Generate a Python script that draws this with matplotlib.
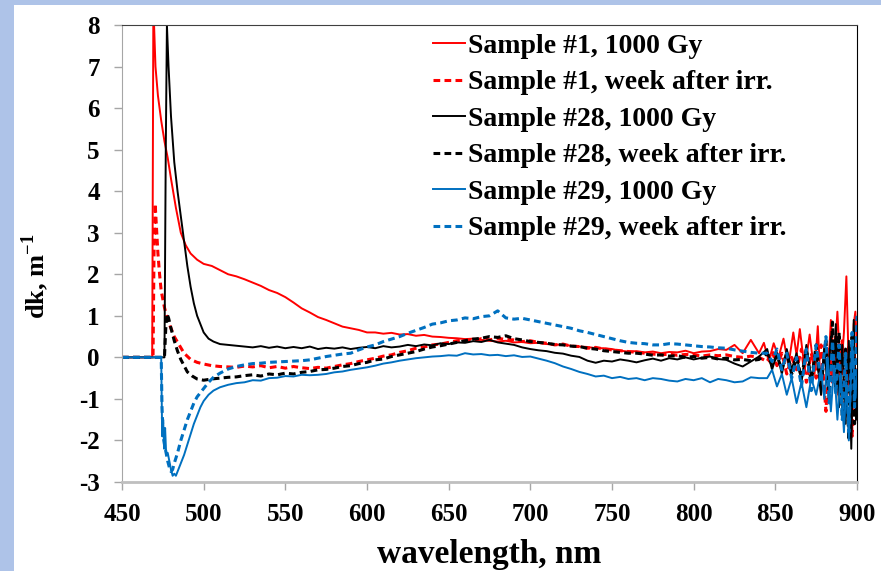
import numpy as np
import matplotlib
matplotlib.use("Agg")
import matplotlib.pyplot as plt
from matplotlib.patches import Rectangle

plt.rcParams['font.family'] = ['Liberation Serif', 'DejaVu Serif']
plt.rcParams['font.weight'] = 'bold'
plt.rcParams['mathtext.fontset'] = 'custom'
plt.rcParams['mathtext.bf'] = 'Liberation Serif:bold'
plt.rcParams['mathtext.rm'] = 'Liberation Serif:bold'
plt.rcParams['axes.unicode_minus'] = False

# ---------------- data ----------------
# common wavelength grid for the middle part of the spectra
mid_wl = list(range(520, 841, 5))

# Sample #1, 1000 Gy
s1_head_wl = [450, 468.5, 469.2, 470.5, 472, 474, 476, 478, 480, 483, 486, 489, 492, 496, 500, 505, 510, 515]
s1_head_dk = [0, 0, 8.5, 7.0, 6.3, 5.7, 5.2, 4.8, 4.3, 3.6, 3.0, 2.7, 2.5, 2.35, 2.25, 2.2, 2.1, 2.0]
s1_mid_dk = [1.95, 1.88, 1.8, 1.72, 1.62, 1.55, 1.45, 1.32, 1.18, 1.08,
             0.97, 0.9, 0.82, 0.74, 0.7, 0.66, 0.6, 0.6, 0.57, 0.59,
             0.55, 0.56, 0.52, 0.54, 0.5, 0.49, 0.47, 0.46, 0.44, 0.45,
             0.42, 0.4, 0.38, 0.4, 0.36, 0.37, 0.34, 0.35, 0.32, 0.31,
             0.3, 0.28, 0.26, 0.25, 0.22, 0.22, 0.2, 0.16, 0.14, 0.15,
             0.12, 0.14, 0.1, 0.13, 0.12, 0.16, 0.1, 0.14, 0.15, 0.2,
             0.18, 0.3, 0.1, 0.42, 0.1]
s1_tail_wl = [843, 846, 849, 852, 855, 858, 861, 863, 865, 868, 871, 874, 876, 878, 880,
              882, 884, 886, 888, 890, 892, 893.5, 895, 896.5, 898, 899, 900]
s1_tail_dk = [0.35, -0.1, 0.34, 0.0, 0.45, -0.2, 0.6, 0.05, 0.68, -0.3, 0.55, -0.4, 0.75, -0.9, 0.3,
              -0.6, 0.9, -0.2, 1.1, -0.5, 0.6, 1.95, -0.3, -1.9, 0.8, 1.1, 0.2]

# Sample #1, week after irradiation
s1w_head_wl = [450, 469, 469.6, 470.3, 471, 472, 473, 474, 476, 478, 480, 482, 485, 488, 492, 496, 500, 505, 510, 515]
s1w_head_dk = [0, 0, 2.5, 3.7, 3.2, 2.5, 2.0, 1.6, 1.2, 0.9, 0.7, 0.5, 0.3, 0.1, -0.05, -0.12, -0.16, -0.2, -0.22, -0.23]
s1w_mid_dk = [-0.24, -0.21, -0.23, -0.2, -0.25, -0.22, -0.26, -0.22, -0.25, -0.27,
              -0.24, -0.26, -0.22, -0.18, -0.15, -0.1, -0.06, -0.02, 0.03, 0.06,
              0.12, 0.16, 0.22, 0.25, 0.3, 0.32, 0.36, 0.4, 0.42, 0.4,
              0.45, 0.42, 0.46, 0.43, 0.42, 0.38, 0.4, 0.36, 0.34, 0.3,
              0.32, 0.27, 0.26, 0.22, 0.24, 0.2, 0.18, 0.16, 0.14, 0.12,
              0.1, 0.08, 0.06, 0.08, 0.05, 0.07, 0.06, 0.03, 0.06, 0.04,
              0.06, 0.02, 0.0, 0.03, 0.0]
s1w_tail_wl = [845, 848, 851, 854, 857, 860, 863, 866, 869, 872, 875, 878, 881, 883, 885,
               887, 889, 891, 893, 895, 897, 898.5, 900]
s1w_tail_dk = [-0.1, 0.15, -0.2, 0.1, -0.4, 0.0, -0.3, 0.2, -0.6, 0.1, -0.5, 0.3, -1.3, 0.2, -0.6,
               0.5, -0.9, 0.4, -1.4, 0.3, -1.9, 0.1, -1.0]

# Sample #28, 1000 Gy
s28_head_wl = [450, 476, 476.8, 477.5, 478.5, 480, 482, 484, 486, 488, 490, 492, 494, 496, 498, 500, 503, 506, 510, 515]
s28_head_dk = [0, 0, 5.0, 8.0, 7.0, 5.8, 4.7, 4.0, 3.4, 2.8, 2.2, 1.7, 1.3, 1.0, 0.8, 0.6, 0.45, 0.38, 0.32, 0.3]
s28_mid_dk = [0.28, 0.26, 0.24, 0.27, 0.23, 0.26, 0.22, 0.25, 0.22, 0.26,
              0.2, 0.23, 0.21, 0.24, 0.2, 0.23, 0.25, 0.22, 0.27, 0.24,
              0.26, 0.3, 0.27, 0.31, 0.29, 0.34, 0.32, 0.36, 0.35, 0.39,
              0.37, 0.42, 0.36, 0.33, 0.3, 0.24, 0.2, 0.17, 0.15, 0.11,
              0.09, 0.04, 0.01, -0.08, -0.13, -0.08, -0.1, -0.05, -0.08, -0.12,
              -0.07, -0.03, -0.08, -0.02, -0.05, 0.0, -0.05, -0.01, 0.02, -0.04,
              -0.06, -0.15, -0.22, -0.1, 0.02]
s28_tail_wl = [845, 848, 851, 854, 857, 860, 863, 866, 869, 872, 875, 878, 880, 882, 884,
               886, 887, 889, 891, 893, 895, 896.5, 898, 899.5, 900]
s28_tail_dk = [0.2, -0.3, 0.1, -0.4, 0.2, -0.3, 0.1, -0.6, 0.3, -0.5, 0.1, -0.9, 0.2, -0.7, 0.5,
               -0.4, 0.8, -1.2, 0.3, -1.6, 0.4, -2.2, 0.9, -1.5, -0.8]

# Sample #28, week after irradiation
s28w_head_wl = [450, 476, 476.8, 477.5, 478.5, 480, 482, 484, 486, 488, 490, 493, 496, 500, 505, 510, 515]
s28w_head_dk = [0, 0, 0.7, 1.05, 0.95, 0.7, 0.4, 0.15, -0.05, -0.2, -0.35, -0.45, -0.52, -0.55, -0.52, -0.5, -0.48]
s28w_mid_dk = [-0.47, -0.44, -0.42, -0.45, -0.4, -0.42, -0.38, -0.4, -0.36, -0.34,
               -0.3, -0.29, -0.26, -0.22, -0.2, -0.15, -0.12, -0.06, -0.04, 0.02,
               0.06, 0.1, 0.14, 0.2, 0.25, 0.28, 0.32, 0.36, 0.4, 0.44,
               0.46, 0.5, 0.48, 0.52, 0.45, 0.42, 0.38, 0.36, 0.34, 0.31,
               0.3, 0.27, 0.26, 0.22, 0.2, 0.16, 0.14, 0.12, 0.1, 0.1,
               0.08, 0.05, 0.06, 0.03, 0.04, 0.0, 0.02, -0.02, 0.0, -0.04,
               -0.02, -0.06, -0.05, -0.08, -0.05]
s28w_tail_wl = [845, 848, 851, 854, 857, 860, 863, 866, 869, 872, 875, 878, 881, 883, 885,
                887, 889, 891, 893, 895, 897, 898.5, 900]
s28w_tail_dk = [0.1, -0.2, 0.05, -0.3, 0.1, -0.4, 0.0, -0.5, 0.2, -0.6, 0.3, -0.7, 0.4, -1.0, 0.85,
                -0.8, 0.6, -1.4, 0.2, -2.0, 0.5, -1.6, -0.6]

# Sample #29, 1000 Gy
s29_head_wl = [450, 474, 474.6, 475.2, 475.8, 476.4, 477, 478, 479, 480, 481, 482, 483, 484, 486,
               488, 490, 492, 494, 496, 498, 500, 503, 506, 510, 515]
s29_head_dk = [0, 0, -1.9, -1.5, -2.2, -1.7, -2.3, -2.3, -2.5, -2.7, -2.85, -2.8, -2.85, -2.75, -2.55,
               -2.35, -2.1, -1.85, -1.6, -1.4, -1.2, -1.05, -0.9, -0.8, -0.72, -0.66]
s29_mid_dk = [-0.62, -0.6, -0.55, -0.56, -0.5, -0.49, -0.45, -0.46, -0.42, -0.43,
              -0.42, -0.4, -0.36, -0.34, -0.3, -0.27, -0.24, -0.2, -0.15, -0.12,
              -0.08, -0.05, -0.02, 0.0, 0.02, 0.03, 0.05, 0.04, 0.1, 0.07,
              0.08, 0.05, 0.06, 0.03, 0.05, 0.01, 0.02, -0.03, -0.08, -0.14,
              -0.22, -0.28, -0.35, -0.4, -0.46, -0.44, -0.5, -0.47, -0.52, -0.5,
              -0.55, -0.5, -0.52, -0.56, -0.58, -0.52, -0.55, -0.5, -0.6, -0.52,
              -0.55, -0.6, -0.58, -0.48, -0.5]
s29_tail_wl = [845, 848, 851, 854, 857, 860, 863, 866, 869, 872, 875, 878, 880, 882, 884,
               886, 888, 890, 892, 893.5, 895, 897, 899, 900]
s29_tail_dk = [-0.5, -0.3, -0.7, -0.4, -0.9, -0.5, -1.1, -0.6, -1.2, -0.5, -0.9, -0.3, -1.0, 0.0, -1.3,
               -0.2, -1.5, -0.4, -1.8, -0.6, -2.0, 0.4, -1.0, -0.3]

# Sample #29, week after irradiation
s29w_head_wl = [450, 474, 474.5, 475.2, 476, 477, 478, 479, 480, 481, 482, 484, 486, 488, 490,
                492, 494, 496, 498, 500, 503, 506, 510, 515]
s29w_head_dk = [0, 0, -1.2, -1.9, -2.1, -2.3, -2.5, -2.65, -2.75, -2.7, -2.55, -2.3, -2.0, -1.75, -1.5,
                -1.3, -1.1, -0.95, -0.85, -0.75, -0.6, -0.48, -0.38, -0.28]
s29w_mid_dk = [-0.22, -0.18, -0.15, -0.14, -0.12, -0.11, -0.1, -0.09, -0.08, -0.06,
               -0.02, 0.02, 0.05, 0.08, 0.1, 0.18, 0.25, 0.3, 0.38, 0.44,
               0.5, 0.58, 0.65, 0.72, 0.8, 0.83, 0.88, 0.9, 0.95, 0.93,
               0.98, 1.0, 1.12, 0.95, 0.92, 0.94, 0.9, 0.86, 0.82, 0.78,
               0.74, 0.7, 0.64, 0.6, 0.55, 0.5, 0.45, 0.4, 0.36, 0.34,
               0.33, 0.3, 0.3, 0.33, 0.32, 0.3, 0.28, 0.26, 0.25, 0.23,
               0.22, 0.18, 0.15, 0.12, 0.1]
s29w_tail_wl = [845, 848, 851, 854, 857, 860, 863, 866, 869, 872, 875, 878, 881, 883, 885,
                887, 889, 891, 893, 895, 897, 898.5, 900]
s29w_tail_dk = [0.1, -0.1, 0.2, -0.3, 0.1, -0.5, 0.0, -0.7, 0.2, -0.8, 0.3, -0.6, 0.5, -1.1, 0.4,
                -0.9, 0.3, -1.5, 0.1, -1.8, 0.6, -1.2, 1.0]

labels = ['Sample #1, 1000 Gy', 'Sample #1, week after irr.',
          'Sample #28, 1000 Gy', 'Sample #28, week after irr.',
          'Sample #29, 1000 Gy', 'Sample #29, week after irr.']

series = [
    (s1_head_wl, s1_head_dk, s1_mid_dk, s1_tail_wl, s1_tail_dk),
    (s1w_head_wl, s1w_head_dk, s1w_mid_dk, s1w_tail_wl, s1w_tail_dk),
    (s28_head_wl, s28_head_dk, s28_mid_dk, s28_tail_wl, s28_tail_dk),
    (s28w_head_wl, s28w_head_dk, s28w_mid_dk, s28w_tail_wl, s28w_tail_dk),
    (s29_head_wl, s29_head_dk, s29_mid_dk, s29_tail_wl, s29_tail_dk),
    (s29w_head_wl, s29w_head_dk, s29w_mid_dk, s29w_tail_wl, s29w_tail_dk),
]

# ---------------- figure ----------------
fig = plt.figure(figsize=(8.81, 5.71), dpi=100)
fig.patch.set_facecolor('white')
# light blue slide border on the left and top
fig.patches.append(Rectangle((0, 0), 14 / 881, 1, transform=fig.transFigure,
                             facecolor='#aec3e8', edgecolor='none'))
fig.patches.append(Rectangle((0, 1 - 5 / 571), 1, 5 / 571, transform=fig.transFigure,
                             facecolor='#aec3e8', edgecolor='none'))
ax = fig.add_axes([122 / 881, 1 - 482 / 571, 735 / 881, 457 / 571])

red, blk, blue = '#ff0000', '#000000', '#0070c0'
colors = [red, red, blk, blk, blue, blue]
dash = (2.2, 1.4)
for i, (hw, hd, md, tw, td) in enumerate(series):
    wl = hw + mid_wl + tw
    dk = hd + md + td
    if i % 2 == 0:
        ax.plot(wl, dk, color=colors[i], lw=1.4, label=labels[i])
    else:
        ax.plot(wl, dk, color=colors[i], lw=2.2, dashes=dash, label=labels[i])

ax.set_xlim(450, 900)
ax.set_ylim(-3, 8)
ax.set_xticks(np.arange(450, 901, 50))
ax.set_yticks(np.arange(-3, 9, 1))
ax.tick_params(labelsize=18, length=6, color='#a6a6a6', width=1.0)
ax.tick_params(axis='y', pad=10)
ax.tick_params(axis='x', pad=9)

ax.spines['left'].set_color('#a6a6a6')
ax.spines['bottom'].set_color('#bfbfbf')
ax.spines['bottom'].set_linewidth(2.0)
ax.spines['top'].set_color('#404040')
ax.spines['right'].set_color('black')

# x label sits right at the bottom edge of the slide
fig.text(489 / 881, 1.5 / 571, 'wavelength, nm', fontsize=24, fontweight='bold',
         ha='center', va='bottom')
ax.set_ylabel(r'dk, m$^{\mathbf{-1}}$', fontsize=19, fontweight='bold')
ax.yaxis.set_label_coords(-0.097, 0.45)

leg = ax.legend(loc='upper left', bbox_to_anchor=(0.423, 0.982), frameon=False,
                fontsize=20, handlelength=1.15, handletextpad=0.12, labelspacing=0.4,
                borderaxespad=0.0, borderpad=0.0)

fig.savefig('out.png', dpi=100)
